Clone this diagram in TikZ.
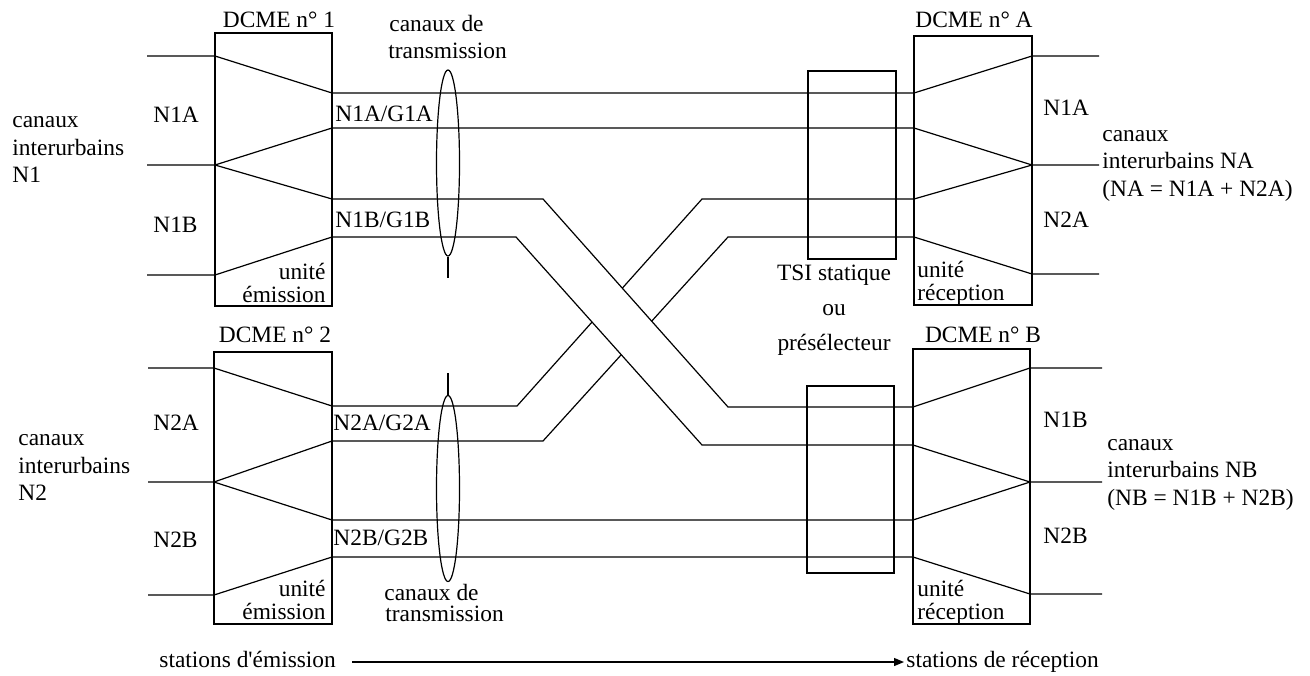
\documentclass[tikz,border=0pt]{standalone}
\usepackage{fontspec}
\setmainfont{Liberation Serif}
\usetikzlibrary{arrows.meta,shapes.geometric,fit}
\begin{document}
\begin{tikzpicture}[x=0.5pt,y=-0.5pt,
  ln/.style={line width=0.6pt,line join=miter},
  unitbox/.style={draw,line width=0.6pt,inner sep=0pt},
  chan/.style={draw,ellipse,line width=0.6pt,inner sep=0pt,minimum width=11.5pt,minimum height=93pt},
  lbl/.style={inner sep=0pt,font=\fontsize{11.7}{13.8}\selectfont}]
\useasboundingbox (0,0) rectangle (1310,675);
% boxes
\node[unitbox,fit={(215,33)(332,306)}] (d1) {};
\node[unitbox,fit={(214,352)(332,624)}] (d2) {};
\node[unitbox,fit={(914,36)(1032,305)}] (dA) {};
\node[unitbox,fit={(913,349)(1030,624)}] (dB) {};
\node[unitbox,fit={(808,71)(896,259)}] (tsi1) {};
\node[unitbox,fit={(807,386)(894,573)}] (tsi2) {};
% coordinates DCME 1
\coordinate (a1in) at (147,56);  \coordinate (a1) at (215,56);
\coordinate (b1in) at (147,165); \coordinate (b1) at (215,165);
\coordinate (c1in) at (147,275); \coordinate (c1) at (215,275);
\coordinate (o11) at (332,93);  \coordinate (o12) at (332,128);
\coordinate (o13) at (332,199); \coordinate (o14) at (332,237);
% DCME 2
\coordinate (a2in) at (148,368); \coordinate (a2) at (214,368);
\coordinate (b2in) at (148,482); \coordinate (b2) at (214,482);
\coordinate (c2in) at (148,595); \coordinate (c2) at (214,595);
\coordinate (o21) at (332,406); \coordinate (o22) at (332,441);
\coordinate (o23) at (332,520); \coordinate (o24) at (332,557);
% DCME A
\coordinate (i11) at (914,93);  \coordinate (i12) at (914,128);
\coordinate (i13) at (914,199); \coordinate (i14) at (914,237);
\coordinate (ra1) at (1032,56);  \coordinate (ra1e) at (1099,56);
\coordinate (ra2) at (1032,165); \coordinate (ra2e) at (1099,165);
\coordinate (ra3) at (1032,274); \coordinate (ra3e) at (1099,274);
% DCME B
\coordinate (ib1) at (913,407); \coordinate (ib2) at (913,445);
\coordinate (ib3) at (913,520); \coordinate (ib4) at (913,557);
\coordinate (rb1) at (1030,368); \coordinate (rb1e) at (1102,368);
\coordinate (rb2) at (1030,482); \coordinate (rb2e) at (1102,482);
\coordinate (rb3) at (1030,594); \coordinate (rb3e) at (1102,594);
% crossing bends
\coordinate (k1) at (543,199); \coordinate (k2) at (728,407);
\coordinate (k3) at (516,237); \coordinate (k4) at (702,445);
\coordinate (m1) at (517,406); \coordinate (m2) at (702,199);
\coordinate (m3) at (543,441); \coordinate (m4) at (728,237);
% straight channels
\draw[ln] (a1in) -- (a1) -- (o11) -- (i11) -- (ra1) -- (ra1e);
\draw[ln] (b1in) -- (b1) -- (o12) -- (i12) -- (ra2) -- (ra2e);
\draw[ln] (b2in) -- (b2) -- (o23) -- (ib3) -- (rb2) -- (rb2e);
\draw[ln] (c2in) -- (c2) -- (o24) -- (ib4) -- (rb3) -- (rb3e);
% N2A strand (underneath)
\draw[ln] (a2in) -- (a2) -- (o21) -- (m1) -- (m2) -- (i13) -- (ra2);
\draw[ln] (b2) -- (o22) -- (m3) -- (m4) -- (i14) -- (ra3) -- (ra3e);
% N1B strand (on top)
\fill[white] (k1) -- (k2) -- (k4) -- (k3) -- cycle;
\draw[ln] (b1) -- (o13) -- (k1) -- (k2) -- (ib1) -- (rb1) -- (rb1e);
\draw[ln] (c1in) -- (c1) -- (o14) -- (k3) -- (k4) -- (ib2) -- (rb2);
% ellipses
\node[chan] (e1) at (448,163) {};
\node[chan] (e2) at (448,488.5) {};
\coordinate (e1t) at (448,278);
\coordinate (e2t) at (448,373);
\draw[ln] (e1.south) -- (e1t);
\draw[ln] (e2.north) -- (e2t);
% labels
\node[lbl,anchor=base] (l1) at (279,27) {DCME n° 1};
\node[lbl,anchor=base] (l2) at (275,342) {DCME n° 2};
\node[lbl,anchor=base] (lA) at (974,27) {DCME n° A};
\node[lbl,anchor=base] (lB) at (983,342) {DCME n° B};
\node[lbl,anchor=base west] (ct1) at (389,31) {canaux de};
\node[lbl,anchor=base west] (ct2) at (388,58) {transmission};
\node[lbl,anchor=base west] (cb1) at (384,600) {canaux de};
\node[lbl,anchor=base west] (cb2) at (385,621) {transmission};
\node[lbl,anchor=base west] (g1) at (335,121) {N1A/G1A};
\node[lbl,anchor=base west] (g2) at (335,227) {N1B/G1B};
\node[lbl,anchor=base west] (g3) at (333,430) {N2A/G2A};
\node[lbl,anchor=base west] (g4) at (333,545) {N2B/G2B};
\node[lbl,anchor=base west] (n1a) at (153,122) {N1A};
\node[lbl,anchor=base west] (n1b) at (153,232) {N1B};
\node[lbl,anchor=base west] (n2a) at (153,430) {N2A};
\node[lbl,anchor=base west] (n2b) at (153,547) {N2B};
\node[lbl,anchor=base west] (rn1a) at (1043,115) {N1A};
\node[lbl,anchor=base west] (rn2a) at (1043,227) {N2A};
\node[lbl,anchor=base west] (rn1b) at (1043,427) {N1B};
\node[lbl,anchor=base west] (rn2b) at (1043,543) {N2B};
\node[lbl,anchor=base west] (cl1a) at (12,127) {canaux};
\node[lbl,anchor=base west] (cl1b) at (12,155) {interurbains};
\node[lbl,anchor=base west] (cl1c) at (12,182) {N1};
\node[lbl,anchor=base west] (cl2a) at (18,445) {canaux};
\node[lbl,anchor=base west] (cl2b) at (18,473) {interurbains};
\node[lbl,anchor=base west] (cl2c) at (18,500) {N2};
\node[lbl,anchor=base west] (cra) at (1102,141) {canaux};
\node[lbl,anchor=base west] (crb) at (1102,168) {interurbains NA};
\node[lbl,anchor=base west] (crc) at (1102,196) {(NA = N1A + N2A)};
\node[lbl,anchor=base west] (cba) at (1107,450) {canaux};
\node[lbl,anchor=base west] (cbb) at (1107,477) {interurbains NB};
\node[lbl,anchor=base west] (cbc) at (1107,505) {(NB = N1B + N2B)};
\node[lbl,anchor=base east] (u1a) at (326,279) {unité};
\node[lbl,anchor=base east] (u1b) at (326,302) {émission};
\node[lbl,anchor=base east] (u2a) at (326,596) {unité};
\node[lbl,anchor=base east] (u2b) at (326,619) {émission};
\node[lbl,anchor=base west] (uAa) at (917,277) {unité};
\node[lbl,anchor=base west] (uAb) at (917,300) {réception};
\node[lbl,anchor=base west] (uBa) at (917,596) {unité};
\node[lbl,anchor=base west] (uBb) at (917,619) {réception};
\node[lbl,anchor=base] (ts1) at (834,280) {TSI statique};
\node[lbl,anchor=base] (ts2) at (834,315) {ou};
\node[lbl,anchor=base] (ts3) at (834,350) {présélecteur};
% bottom arrow
\node[lbl,anchor=base west] (se) at (159,667) {stations d\textquotesingle émission};
\node[lbl,anchor=base west] (sr) at (906,667) {stations de réception};
\coordinate (as) at (352,662);
\coordinate (ae) at (904,662);
\draw[ln,-{Triangle[length=5pt,width=4pt]}] (as) -- (ae);
\end{tikzpicture}
\end{document}
